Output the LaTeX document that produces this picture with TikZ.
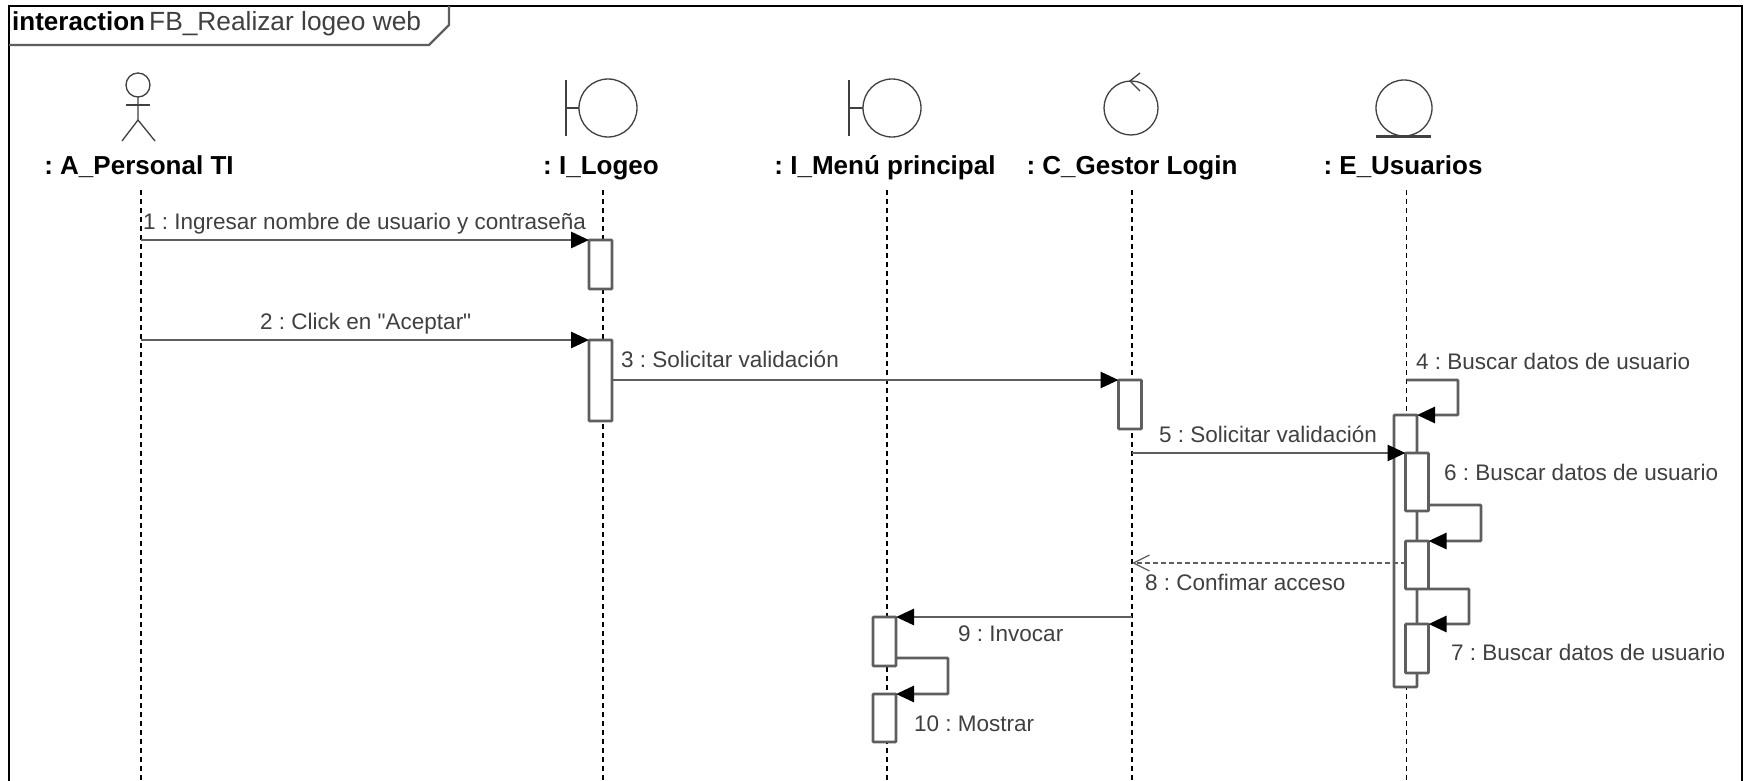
\documentclass[tikz,border=0pt]{standalone}
\usepackage{fontspec}
\setmainfont{Liberation Sans}
\newfontfamily\plainquote{Liberation Sans}
\usetikzlibrary{arrows.meta}
\definecolor{linegray}{HTML}{5E5E5E}
\definecolor{textgray}{HTML}{404040}
\tikzset{
    lifeline/.style={black, line width=1.4pt, dash pattern=on 5pt off 4pt},
    activation/.style={draw=linegray, line width=2.6pt, fill=white, rounded corners=0.8pt, minimum width=23pt, inner sep=0pt, outer sep=0pt, anchor=north west},
    msg/.style={draw=linegray, line width=2.8pt, -{Triangle[length=18pt,width=16pt,color=black]}},
    selfmsg/.style={msg, rounded corners=0.8pt},
    retmsg/.style={draw=linegray, line width=2.2pt, dash pattern=on 4.5pt off 3.5pt, -{Straight Barb[length=16pt,width=16pt,line width=1.3pt]}},
    symbol/.style={draw=black!75, line width=1.3pt},
    objlabel/.style={font=\fontsize{26}{28}\selectfont\bfseries, text=black, inner sep=0pt, anchor=base},
    msglabel/.style={font=\fontsize{22.5}{26}\selectfont, text=textgray, inner sep=0pt, anchor=base west}
}
\begin{document}
\frenchspacing
\begin{tikzpicture}[x=1pt, y=-1pt]
        \useasboundingbox (0,0) rectangle (1744,781);
        \fill[white] (0,0) rectangle (1744,781);

        % Lifelines
        \coordinate (actorTop) at (141,190);
        \coordinate (actorEnd) at (141,781);
        \coordinate (logeoTop) at (603,190);
        \coordinate (logeoEnd) at (603,781);
        \coordinate (menuTop) at (887,190);
        \coordinate (menuEnd) at (887,781);
        \coordinate (gestorTop) at (1132,190);
        \coordinate (gestorEnd) at (1132,781);
        \coordinate (usuariosTop) at (1406.5,190);
        \coordinate (usuariosEnd) at (1406.5,781);
        \draw[lifeline] (actorTop) -- (actorEnd);
        \draw[lifeline] (logeoTop) -- (logeoEnd);
        \draw[lifeline] (menuTop) -- (menuEnd);
        \draw[lifeline] (gestorTop) -- (gestorEnd);
        \draw[lifeline] (usuariosTop) -- (usuariosEnd);

        % Frame
        \draw[black, line width=2.6pt] (9,781) -- (9,6) -- (1742,6) -- (1742,781);
        \draw[linegray, line width=2.2pt] (9,45) -- (429,45) -- (449,25) -- (449,6);
        \node[font=\fontsize{26}{28}\selectfont\bfseries, inner sep=0pt, anchor=base west] (frameKind) at (12,31) {interaction};
        \node[font=\fontsize{26.3}{28}\selectfont, text=textgray, inner sep=0pt, anchor=base west] (frameName) at (149,31) {FB\_Realizar logeo web};

        % Actor
        \draw[symbol] (138,85) circle (12);
        \draw[symbol] (138,97) -- (138,120) -- (122,141);
        \draw[symbol] (138,120) -- (155,141);
        \draw[symbol] (126,105) -- (150,105);
        \node[objlabel] (actorLabel) at (139,174) {: A\_Personal TI};

        % Boundaries
        \draw[symbol] (566,80) -- (566,136);
        \draw[symbol] (566,108) -- (579,108);
        \draw[symbol] (608,108) circle (29);
        \node[objlabel] (logeoLabel) at (601,174) {: I\_Logeo};
        \draw[symbol] (849,80) -- (849,136);
        \draw[symbol] (849,108) -- (863,108);
        \draw[symbol] (892,108) circle (29);
        \node[objlabel] (menuLabel) at (885,174) {: I\_Menú principal};

        % Control
        \draw[symbol] (1131,108) circle (27);
        \draw[symbol] (1140,73) -- (1130,81) -- (1140,91);
        \node[objlabel] (gestorLabel) at (1132,174) {: C\_Gestor Login};

        % Entity
        \draw[symbol] (1404,108) circle (28);
        \draw[symbol, line width=2.2pt] (1376,136.5) -- (1431,136.5);
        \node[objlabel] (usuariosLabel) at (1403,174) {: E\_Usuarios};

        % Activations
        \node[activation, minimum height=49pt] (logeoOne) at (589,240) {};
        \node[activation, minimum height=81pt] (logeoTwo) at (589,340) {};
        \node[activation, minimum height=49pt] (gestorOne) at (1118.5,380) {};
        \node[activation, minimum height=272pt] (usuariosMain) at (1394,415) {};
        \node[activation, minimum height=58pt] (usuariosOne) at (1405.5,453) {};
        \node[activation, minimum height=48pt] (usuariosTwo) at (1405.5,541) {};
        \node[activation, minimum height=49pt] (usuariosThree) at (1405.5,624) {};
        \node[activation, minimum height=49pt] (menuOne) at (873,617) {};
        \node[activation, minimum height=48pt] (menuTwo) at (873,694) {};

        % Messages
        \coordinate (msgOne) at (141,240);
        \coordinate (msgTwo) at (141,340);
        \coordinate (msgFour) at (1406.5,380);
        \coordinate (msgFive) at (1132,453);
        \coordinate (msgSix) at (1428.5,505);
        \coordinate (msgEight) at (1405.5,563);
        \coordinate (msgEightEnd) at (1132,563);
        \coordinate (msgNine) at (1132,617);
        \coordinate (msgTen) at (896,658);
        \draw[msg] (msgOne) -- (logeoOne.north west);
        \draw[msg] (msgTwo) -- (logeoTwo.north west);
        \draw[msg] (logeoTwo.east |- gestorOne.north west) -- (gestorOne.north west);
        \draw[selfmsg] (msgFour) -- (1458,380) -- (1458,415) -- (usuariosMain.north east);
        \draw[msg] (msgFive) -- (usuariosOne.north west);
        \draw[selfmsg] (msgSix) -- (1481,505) -- (1481,541) -- (usuariosTwo.north east);
        \draw[selfmsg] (usuariosTwo.south east) -- (1469,589) -- (1469,624) -- (usuariosThree.north east);
        \draw[retmsg] (msgEight) -- (msgEightEnd);
        \draw[msg] (msgNine) -- (menuOne.north east);
        \draw[selfmsg] (msgTen) -- (948,658) -- (948,694) -- (menuTwo.north east);

        % Message labels
        \node[msglabel] (labelOne) at (143,229) {1 : Ingresar nombre de usuario y contraseña};
        \node[msglabel] (labelTwo) at (260,329) {2 : Click en {\plainquote"}Aceptar{\plainquote"}};
        \node[msglabel] (labelThree) at (621,367) {3 : Solicitar validación};
        \node[msglabel] (labelFour) at (1416,369) {4 : Buscar datos de usuario};
        \node[msglabel] (labelFive) at (1159,442) {5 : Solicitar validación};
        \node[msglabel] (labelSix) at (1444,480) {6 : Buscar datos de usuario};
        \node[msglabel] (labelSeven) at (1451,660) {7 : Buscar datos de usuario};
        \node[msglabel] (labelEight) at (1145,590) {8 : Confimar acceso};
        \node[msglabel] (labelNine) at (958,641) {9 : Invocar};
        \node[msglabel] (labelTen) at (914,731) {10 : Mostrar};
\end{tikzpicture}
\end{document}
